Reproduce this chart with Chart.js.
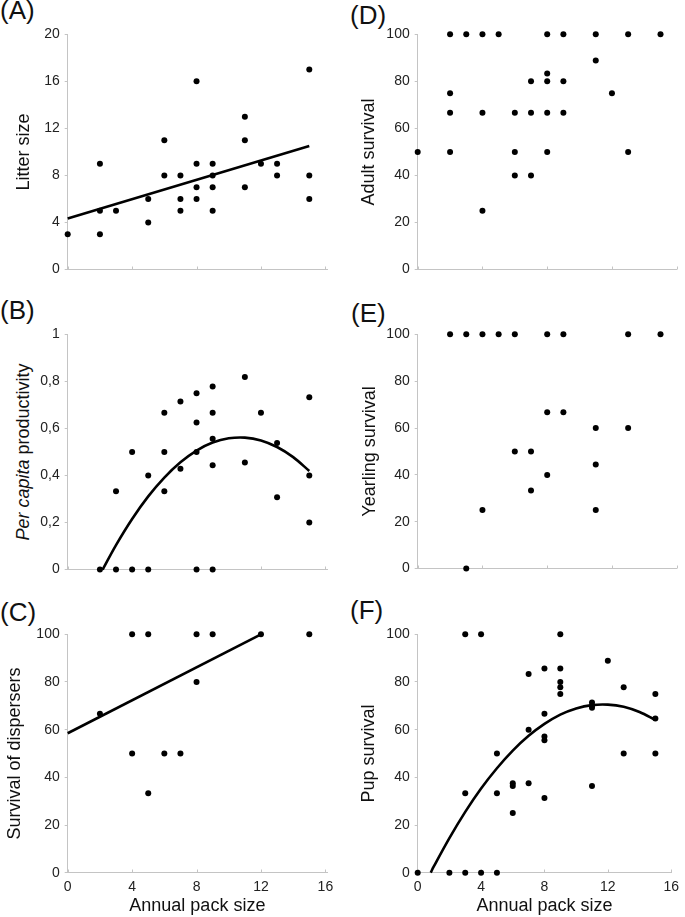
<!DOCTYPE html>
<html><head><meta charset="utf-8">
<script src="https://cdn.jsdelivr.net/npm/chart.js@4"></script>
<style>
html,body{margin:0;padding:0;background:#fff;}
body{width:685px;height:917px;position:relative;overflow:hidden;font-family:'Liberation Sans',Arial,Helvetica,sans-serif;}
.panel{position:absolute;}
.lab{position:absolute;font-size:26px;line-height:26px;color:#111;white-space:nowrap;}
.ytitle{position:absolute;font-size:18px;line-height:22px;white-space:nowrap;transform:translate(-50%,-50%) rotate(-90deg);color:#111;}
</style></head><body>
<div class="lab" style="left:0px;top:-3px">(A)</div>
<div class="lab" style="left:0px;top:297px">(B)</div>
<div class="lab" style="left:0px;top:599px">(C)</div>
<div class="lab" style="left:350px;top:2px">(D)</div>
<div class="lab" style="left:351px;top:300px">(E)</div>
<div class="lab" style="left:350px;top:597px">(F)</div>
<div class="ytitle" style="left:22.5px;top:452px"><i>Per capita</i> productivity</div>
<script>
// ---- tick values ----
const xTicks = [0, 4, 8, 12, 16];
const yTicksA = [0, 4, 8, 12, 16, 20];
const yTicksB = [0, 0.2, 0.4, 0.6, 0.8, 1];
const yLabelsB = ['0', '0,2', '0,4', '0,6', '0,8', '1'];
const yTicksPct = [0, 20, 40, 60, 80, 100];
const xTitle = 'Annual pack size';

// ---- (A) Litter size ----
const packA = [0,2,2,2,3,5,5,6,6,7,7,7,8,8,8,8,9,9,9,9,11,11,11,12,13,13,15,15,15];
const litterA = [3,9,5,3,5,6,4,11,8,8,6,5,16,9,7,6,9,8,7,5,13,11,7,9,9,8,17,8,6];
const fitAx = [0, 15];
const fitAy = [4.35, 10.5];

// ---- (B) Per capita productivity ----
const packB = [2,3,3,4,4,5,5,6,6,6,7,7,8,8,8,8,9,9,9,9,9,11,11,12,13,13,15,15,15];
const prodB = [0,0.333,0,0.5,0,0.4,0,0.667,0.5,0.333,0.714,0.429,0.75,0.625,0.5,0,0.778,0.667,0.556,0.444,0,0.818,0.455,0.667,0.538,0.308,0.733,0.4,0.2];
const fitBx = [2.17,3,4,5,6,7,8,9,10,11,12,13,14,15];
const fitBy = [0,0.104,0.215,0.311,0.391,0.456,0.506,0.540,0.558,0.561,0.549,0.521,0.478,0.419];

// ---- (C) Survival of dispersers ----
const packC = [2,4,4,5,5,6,7,8,8,9,12,15];
const dispC = [66.7,100,50,100,33.3,50,50,100,80,100,100,100];
const fitCx = [0, 12];
const fitCy = [58.5, 100];

// ---- (D) Adult survival ----
const packD = [0,2,2,2,2,3,4,4,4,5,6,6,6,7,7,7,8,8,8,8,8,9,9,9,11,11,12,13,13,15];
const adultD = [50,100,75,66.7,50,100,100,66.7,25,100,66.7,50,40,80,66.7,40,100,83.3,80,66.7,50,100,80,66.7,100,88.9,75,100,50,100];

// ---- (E) Yearling survival ----
const packE = [2,3,3,4,4,5,6,6,7,7,8,8,8,9,9,11,11,11,13,13,15];
const yearE = [100,100,0,100,25,100,100,50,50,33.3,100,66.7,40,100,66.7,60,44.4,25,100,60,100];

// ---- (F) Pup survival ----
const packF = [0,2,3,3,3,4,4,5,5,5,6,6,6,7,7,7,8,8,8,8,8,9,9,9,9,9,11,11,11,11,12,13,13,15,15,15];
const pupF = [0,0,100,33.3,0,100,0,50,33.3,0,37.5,36.4,25,83.3,60,37.5,85.7,66.7,57.1,55.6,31.3,100,85.7,80,77.8,75,71.4,70,69.2,36.4,88.9,77.8,50,75,64.7,50];
const fitFx = [0.82,1,2,3,4,5,6,7,8,9,10,11,12,13,14,15];
const fitFy = [0,2.4,14.5,25.5,35.3,43.8,51.2,57.4,62.4,66.3,68.9,70.3,70.5,69.6,67.4,64.1];

const FAM = "'Liberation Sans', Arial, Helvetica, sans-serif";
const AXC = '#c4c4c4';
const pts = (xs, ys) => xs.map((x, i) => ({x: x, y: ys[i]}));

// short inward tick marks on the x axis (as in the reference), drawn beneath the dots
const innerTicks = {
  id: 'innerTicks',
  beforeDatasetsDraw(chart) {
    const s = chart.scales.x, ctx = chart.ctx, b = Math.round(chart.chartArea.bottom) - 0.5;
    ctx.save();
    ctx.strokeStyle = AXC;
    ctx.lineWidth = 1;
    ctx.beginPath();
    s.ticks.forEach(t => {
      const px = Math.round(s.getPixelForValue(t.value)) + 0.5;
      ctx.moveTo(px, b);
      ctx.lineTo(px, b - 3);
    });
    ctx.stroke();
    ctx.restore();
  }
};

function build(c) {
  const top = Math.floor(c.areaTop - 30);
  const P = c.areaTop - top;
  const bottomEdge = c.xLabels ? 917 : Math.round(c.areaBottom + 10);
  const height = bottomEdge - top;
  const hx = bottomEdge - c.areaBottom;
  const yW = c.areaLeft - c.left;
  const PR = c.left + c.width - c.areaRight;
  const div = document.createElement('div');
  div.className = 'panel';
  div.style.left = c.left + 'px';
  div.style.top = top + 'px';
  div.style.width = c.width + 'px';
  div.style.height = height + 'px';
  const cv = document.createElement('canvas');
  div.appendChild(cv);
  document.body.appendChild(div);
  const datasets = [{
    data: pts(c.xs, c.ys), showLine: false, pointRadius: 3, pointHoverRadius: 3,
    pointBackgroundColor: '#000', pointBorderWidth: 0, clip: false
  }];
  if (c.fx) {
    datasets.push({
      data: pts(c.fx, c.fy), showLine: true, pointRadius: 0, borderColor: '#000',
      borderWidth: 2.6, tension: c.tension || 0, fill: false, clip: false
    });
  }
  new Chart(cv, {
    type: 'scatter',
    data: {datasets: datasets},
    plugins: [innerTicks],
    options: {
      animation: false, responsive: true, maintainAspectRatio: false,
      layout: {padding: {top: P, right: PR, bottom: 0, left: 0}},
      plugins: {legend: {display: false}, tooltip: {enabled: false}},
      scales: {
        x: {
          type: 'linear', min: 0, max: c.xmax,
          afterBuildTicks: s => { s.ticks = xTicks.map(v => ({value: v})); },
          grid: {drawOnChartArea: false, drawTicks: false, color: AXC},
          border: {color: AXC, width: 1},
          ticks: {display: !!c.xLabels, color: '#222', font: {family: FAM, size: 14}, padding: 6, maxRotation: 0, autoSkip: false},
          title: {display: !!c.xLabels, text: xTitle, color: '#111', font: {family: FAM, size: 18}, padding: {top: 0, bottom: 0}},
          afterFit: s => { s.height = hx; }
        },
        y: {
          type: 'linear', min: c.yTicks[0], max: c.yTicks[c.yTicks.length - 1],
          afterBuildTicks: s => { s.ticks = c.yTicks.map(v => ({value: v})); },
          grid: {drawOnChartArea: false, drawTicks: true, tickLength: 3, color: AXC},
          border: {color: AXC, width: 1},
          ticks: {color: '#222', font: {family: FAM, size: 14}, padding: 5,
                  callback: v => c.yLabels ? c.yLabels[c.yTicks.indexOf(v)] : String(v)},
          title: {display: !!c.ytitle, text: c.ytitle || '', color: '#111', font: {family: FAM, size: 18}, padding: {top: c.tpad || 0, bottom: 0}},
          afterFit: s => { s.width = yW; }
        }
      }
    }
  });
}

build({left: 0, width: 340, areaLeft: 67.7, areaRight: 327, areaTop: 34.3, areaBottom: 273.3, xmax: 16.1,
  xs: packA, ys: litterA, fx: fitAx, fy: fitAy, yTicks: yTicksA, ytitle: 'Litter size', tpad: 13.2});
build({left: 0, width: 340, areaLeft: 67.7, areaRight: 327, areaTop: 334.3, areaBottom: 573.3, xmax: 16.1,
  xs: packB, ys: prodB, fx: fitBx, fy: fitBy, tension: 0.35, yTicks: yTicksB, yLabels: yLabelsB});
build({left: 0, width: 340, areaLeft: 67.7, areaRight: 327, areaTop: 634.3, areaBottom: 872.7, xmax: 16.1, xLabels: true,
  xs: packC, ys: dispC, fx: fitCx, fy: fitCy, yTicks: yTicksPct, ytitle: 'Survival of dispersers', tpad: 4.2});
build({left: 345, width: 340, areaLeft: 417.7, areaRight: 676.7, areaTop: 34.3, areaBottom: 273.3, xmax: 16,
  xs: packD, ys: adultD, yTicks: yTicksPct, ytitle: 'Adult survival', tpad: 13.2});
build({left: 345, width: 340, areaLeft: 417.7, areaRight: 676.7, areaTop: 334.3, areaBottom: 572.3, xmax: 16,
  xs: packE, ys: yearE, yTicks: yTicksPct, ytitle: 'Yearling survival', tpad: 14.2});
build({left: 345, width: 340, areaLeft: 417.7, areaRight: 676.7, areaTop: 634.3, areaBottom: 872.7, xmax: 16, xLabels: true,
  xs: packF, ys: pupF, fx: fitFx, fy: fitFy, tension: 0.35, yTicks: yTicksPct, ytitle: 'Pup survival', tpad: 13.2});
</script>
</body></html>
